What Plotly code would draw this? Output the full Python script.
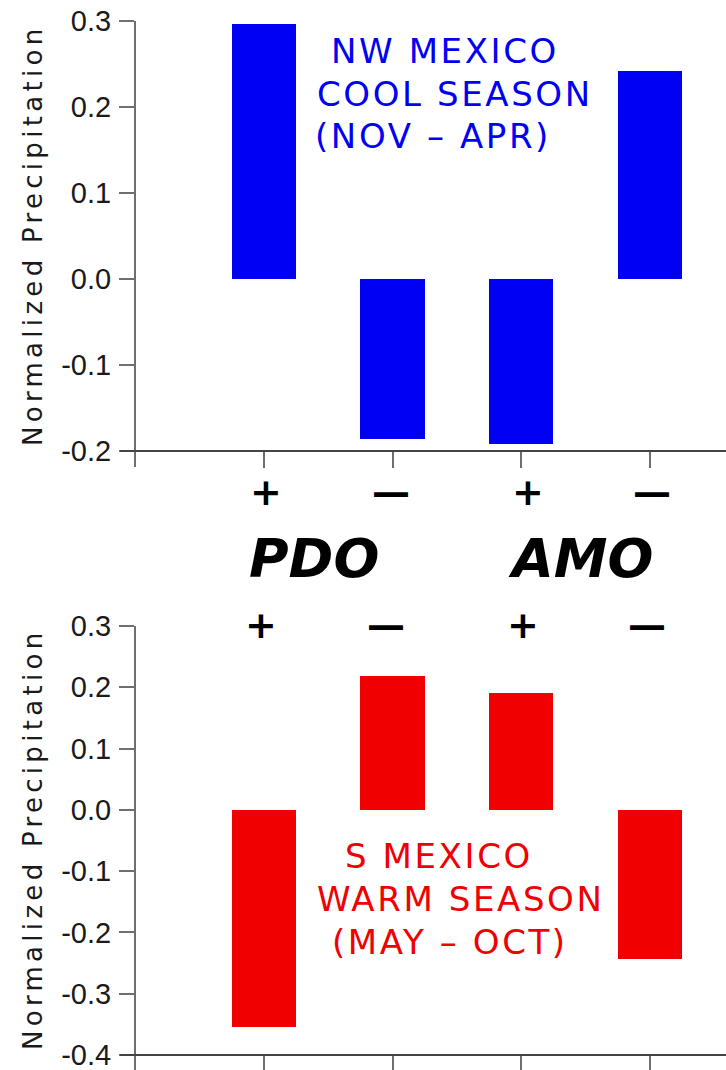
import plotly.graph_objects as go

# ---- data ----
categories = [1, 2, 3, 4]
sign_labels = ["+", "—", "+", "—"]
cool_values = [0.296, -0.186, -0.192, 0.242]
warm_values = [-0.354, 0.219, 0.190, -0.243]
top_ticks = [0.3, 0.2, 0.1, 0.0, -0.1, -0.2]
bottom_ticks = [0.3, 0.2, 0.1, 0.0, -0.1, -0.2, -0.3, -0.4]

W, H = 726, 1070
def px(x):
    return x / W
def py(y):
    return 1 - y / H

BLUE = "#0000F2"
RED = "#F00000"
AXIS = "#6f6f6f"
TXT = "#1a1a1a"

def fmt(v):
    return "%.1f" % v

fig = go.Figure()
fig.add_trace(go.Bar(x=categories, y=cool_values, width=0.5, marker=dict(color=BLUE, line=dict(width=0)),
                     xaxis="x", yaxis="y", showlegend=False))
fig.add_trace(go.Bar(x=categories, y=warm_values, width=0.5, marker=dict(color=RED, line=dict(width=0)),
                     xaxis="x2", yaxis="y2", showlegend=False))

xcommon = dict(range=[0, 4.59], domain=[px(135), 1], showgrid=False, zeroline=False, showline=False,
               tickmode="array", tickvals=categories, ticktext=["", "", "", ""], automargin=False,
               ticks="outside", ticklen=16, tickwidth=2, tickcolor=AXIS, fixedrange=True)
ycommon = dict(showgrid=False, zeroline=False, showline=False, ticks="outside", ticklen=15, tickwidth=2,
               tickcolor=AXIS, tickfont=dict(family="Liberation Sans, Arial", size=29, color=TXT),
               automargin=False, fixedrange=True, tickmode="array", ticklabelstandoff=2,
               ticklabeloverflow="allow")

fig.update_layout(
    width=W, height=H, margin=dict(l=0, r=0, t=0, b=0, autoexpand=False),
    paper_bgcolor="white", plot_bgcolor="white",
    xaxis=dict(**xcommon, anchor="y"),
    yaxis=dict(**ycommon, range=[-0.2, 0.3], domain=[py(451), py(21)], tickvals=top_ticks,
               ticktext=[fmt(v) for v in top_ticks], anchor="x"),
    xaxis2=dict(**xcommon, anchor="y2"),
    yaxis2=dict(**ycommon, range=[-0.4, 0.3], domain=[py(1055), py(626)], tickvals=bottom_ticks,
                ticktext=[fmt(v) for v in bottom_ticks], anchor="x2"),
    bargap=0,
)

# axis lines
line_style = dict(color=AXIS, width=2)
shapes = [
    dict(type="line", xref="paper", yref="paper", x0=px(135), x1=px(135), y0=py(21), y1=py(467), line=line_style),
    dict(type="line", xref="paper", yref="paper", x0=px(120), x1=1, y0=py(451), y1=py(451), line=dict(color="#444", width=2)),
    dict(type="line", xref="paper", yref="paper", x0=px(135), x1=px(135), y0=py(626), y1=0, line=line_style),
    dict(type="line", xref="paper", yref="paper", x0=px(120), x1=1, y0=py(1055), y1=py(1055), line=dict(color="#444", width=2)),
]
fig.update_layout(shapes=shapes)

ann = []
ytitle = '<span style="letter-spacing:4.3px">Normalized Precipitation</span>'
for yc in (236, 840):
    ann.append(dict(text=ytitle, xref="paper", yref="paper", x=px(33), y=py(yc), textangle=-90,
                    showarrow=False, xanchor="center", yanchor="middle",
                    font=dict(family="DejaVu Sans", size=26, color=TXT)))

# sign labels (top row and bottom row)
top_x = [266, 391, 528, 652]
bot_x = [261, 386, 523, 647]
for i, s in enumerate(sign_labels):
    ann.append(dict(text="<b>%s</b>" % s, xref="paper", yref="paper", x=px(top_x[i]), y=py(492),
                    showarrow=False, xanchor="center", yanchor="middle",
                    font=dict(family="DejaVu Sans", size=38, color="black")))
    ann.append(dict(text="<b>%s</b>" % s, xref="paper", yref="paper", x=px(bot_x[i]), y=py(625),
                    showarrow=False, xanchor="center", yanchor="middle",
                    font=dict(family="DejaVu Sans", size=38, color="black")))

for txt, xc in (("PDO", 314), ("AMO", 580)):
    ann.append(dict(text="<b><i>%s</i></b>" % txt, xref="paper", yref="paper", x=px(xc), y=py(558),
                    showarrow=False, xanchor="center", yanchor="middle",
                    font=dict(family="DejaVu Sans", size=54, color="black")))

season_font_sz = 34
sp = '<span style="letter-spacing:2.6px">%s</span>'
top_lines = [("NW MEXICO", 329, 51), ("COOL SEASON", 315, 94), ("(NOV – APR)", 313, 136)]
bot_lines = [("S MEXICO", 343, 856), ("WARM SEASON", 315, 899), ("(MAY – OCT)", 330, 942)]
for lines, col in ((top_lines, BLUE), (bot_lines, RED)):
    for t, x0, yc in lines:
        ann.append(dict(text=sp % t, xref="paper", yref="paper", x=px(x0), y=py(yc),
                        showarrow=False, xanchor="left", yanchor="middle",
                        font=dict(family="DejaVu Sans", size=season_font_sz, color=col)))

fig.update_layout(annotations=ann)
fig.write_html("out.html", config={"displayModeBar": False},
               post_script="document.body.style.margin='0px';")
